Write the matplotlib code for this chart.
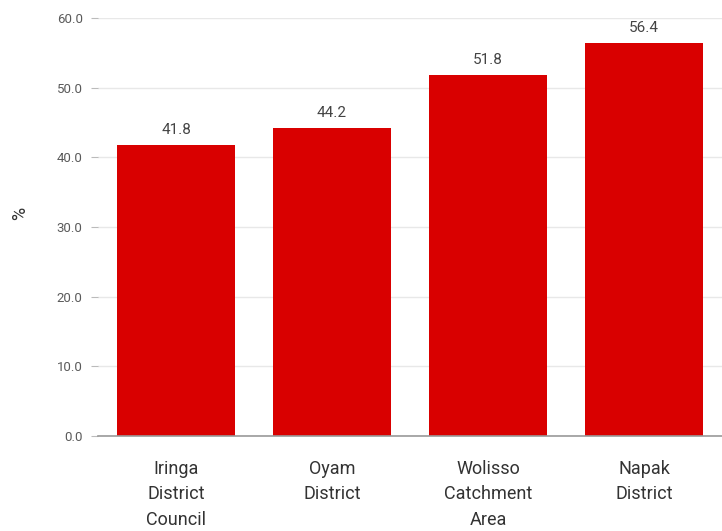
import matplotlib
matplotlib.use("Agg")
import matplotlib.pyplot as plt

plt.rcParams['font.family'] = ['Roboto', 'DejaVu Sans']

categories = ['Iringa\nDistrict\nCouncil', 'Oyam\nDistrict', 'Wolisso\nCatchment\nArea', 'Napak\nDistrict']
values = [41.8, 44.2, 51.8, 56.4]
yticks = [0, 10, 20, 30, 40, 50, 60]

fig = plt.figure(figsize=(7.22, 5.31), dpi=100)
ax = fig.add_axes([98 / 722, 95 / 531, 1 - 98 / 722, (436 - 18) / 531])

x = range(len(categories))
ax.bar(x, values, width=0.755, color='#d90000', zorder=3)

for i, v in enumerate(values):
    ax.text(i, v + 1.1, f'{v:.1f}', ha='center', va='bottom', fontsize=11, color='#444444')

ax.set_xlim(-0.5, len(categories) - 0.5)
ax.set_ylim(0, 60)
ax.set_yticks(yticks)
ax.set_yticklabels([f'{t:.1f}' for t in yticks], fontsize=9.5, color='#5a5a5a')
ax.set_xticks(list(x))
ax.set_xticklabels(categories, fontsize=13, color='#333333', linespacing=1.55)
ax.tick_params(axis='x', length=0, pad=17)
ax.tick_params(axis='y', length=5, color='#bbbbbb', pad=6)

ax.grid(axis='y', color='#e8e8e8', linewidth=1, zorder=0)
for side in ['top', 'right', 'left']:
    ax.spines[side].set_visible(False)
ax.spines['bottom'].set_color('#999999')
ax.spines['bottom'].set_linewidth(1.2)
ax.spines['bottom'].set_zorder(4)

fig.text(20 / 722, 1 - 213 / 531, '%', rotation=90, ha='center', va='center', fontsize=13, color='#333333')

fig.savefig('out.png', dpi=100)
